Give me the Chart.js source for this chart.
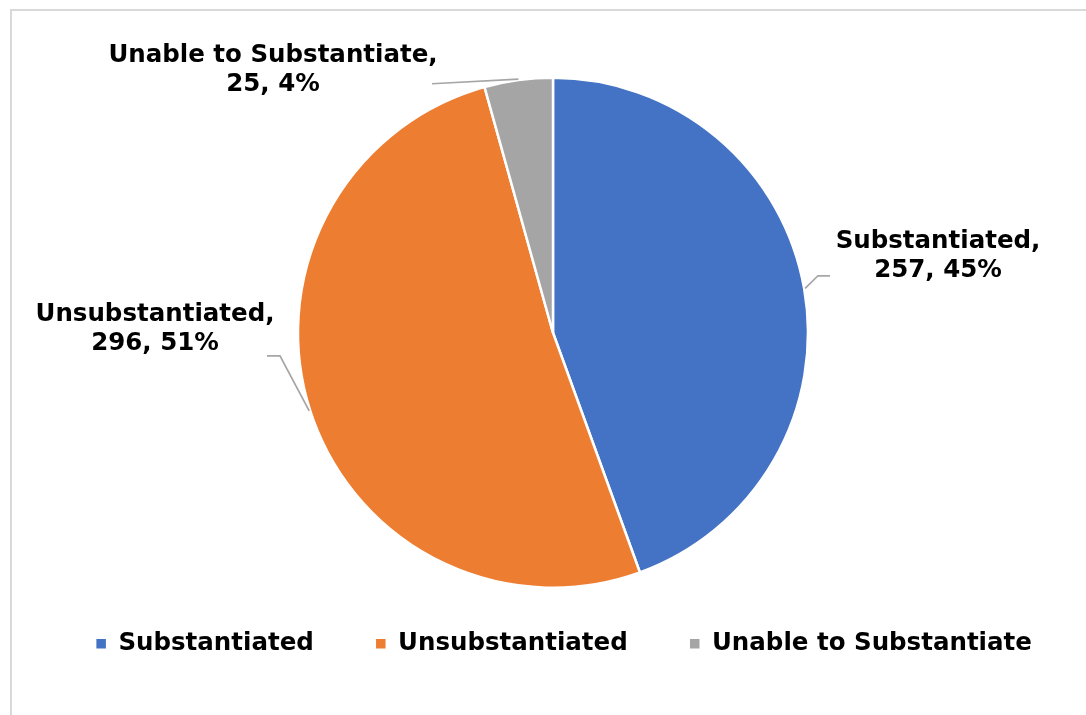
<!DOCTYPE html>
<html>
<head>
<meta charset="utf-8">
<script src="https://cdn.jsdelivr.net/npm/chart.js@4"></script>
<style>
  body { margin: 0; background: #fff; }
  #frame { position: absolute; left: 10px; top: 9px; width: 1200px; height: 800px;
           border-top: 2px solid #d9d9d9; border-left: 2px solid #d9d9d9; }
  #wrap { position: absolute; left: 0; top: 0; width: 1086px; height: 715px; }
</style>
</head>
<body>
<div id="frame"></div>
<div id="wrap"><canvas id="pie"></canvas></div>
<script>
const categories = ['Substantiated', 'Unsubstantiated', 'Unable to Substantiate'];
const counts = [257, 296, 25];
const percents = [45, 51, 4];   // as printed on the chart
const sliceColors = ['#4472C4', '#ED7D31', '#A5A5A5'];

const FONT = '"DejaVu Sans", Verdana, sans-serif';

// where each data label sits, relative to the pie centre (Excel's layout)
const labelPlacement = [
    { text: [385, -77], line: [[265, -57], [277, -57]] },
    { text: [-398, -4], line: [[-273, 23], [-286, 23]] },
    { text: [-280, -263], line: [[-121, -249]] }
];

const dataLabels = {
    id: 'dataLabels',
    afterDatasetsDraw(chart) {
        const ctx = chart.ctx;
        const meta = chart.getDatasetMeta(0);
        meta.data.forEach((arc, i) => {
            const p = arc.getProps(['x', 'y', 'startAngle', 'endAngle', 'outerRadius']);
            const mid = (p.startAngle + p.endAngle) / 2;
            const r = p.outerRadius + 1;
            const place = labelPlacement[i];

            ctx.save();
            ctx.strokeStyle = '#a6a6a6';
            ctx.lineWidth = 1.75;
            ctx.beginPath();
            ctx.moveTo(p.x + Math.cos(mid) * r, p.y + Math.sin(mid) * r);
            place.line.forEach(pt => ctx.lineTo(p.x + pt[0], p.y + pt[1]));
            ctx.stroke();

            const lines = [categories[i] + ',', counts[i] + ', ' + percents[i] + '%'];
            ctx.fillStyle = '#000';
            ctx.font = 'bold 24.5px ' + FONT;
            ctx.textAlign = 'center';
            ctx.textBaseline = 'middle';
            const cx = p.x + place.text[0];
            const cy = p.y + place.text[1];
            ctx.fillText(lines[0], cx, cy - 14.5);
            ctx.fillText(lines[1], cx, cy + 14.5);
            ctx.restore();
        });
    }
};

// the legend in the original sits a little right of the pie centre
const nudgeLegend = {
    id: 'nudgeLegend',
    afterLayout(chart) {
        chart.legend.left += 11;
        chart.legend.right += 11;
    }
};

new Chart(document.getElementById('pie'), {
    type: 'pie',
    data: {
        labels: categories,
        datasets: [{
            data: counts,
            backgroundColor: sliceColors,
            borderColor: '#ffffff',
            borderWidth: 2.5,
            radius: 255
        }]
    },
    options: {
        responsive: true,
        maintainAspectRatio: false,
        animation: false,
        layout: { padding: { left: 20, top: 96, bottom: 49 } },
        plugins: {
            tooltip: { enabled: false },
            legend: {
                position: 'bottom',
                labels: {
                    usePointStyle: true,
                    pointStyle: 'rect',
                    boxHeight: 12,
                    boxWidth: 10,
                    padding: 62,
                    color: '#000',
                    font: { family: FONT, size: 24.5, weight: 'bold' }
                }
            }
        }
    },
    plugins: [dataLabels, nudgeLegend]
});
</script>
</body>
</html>
